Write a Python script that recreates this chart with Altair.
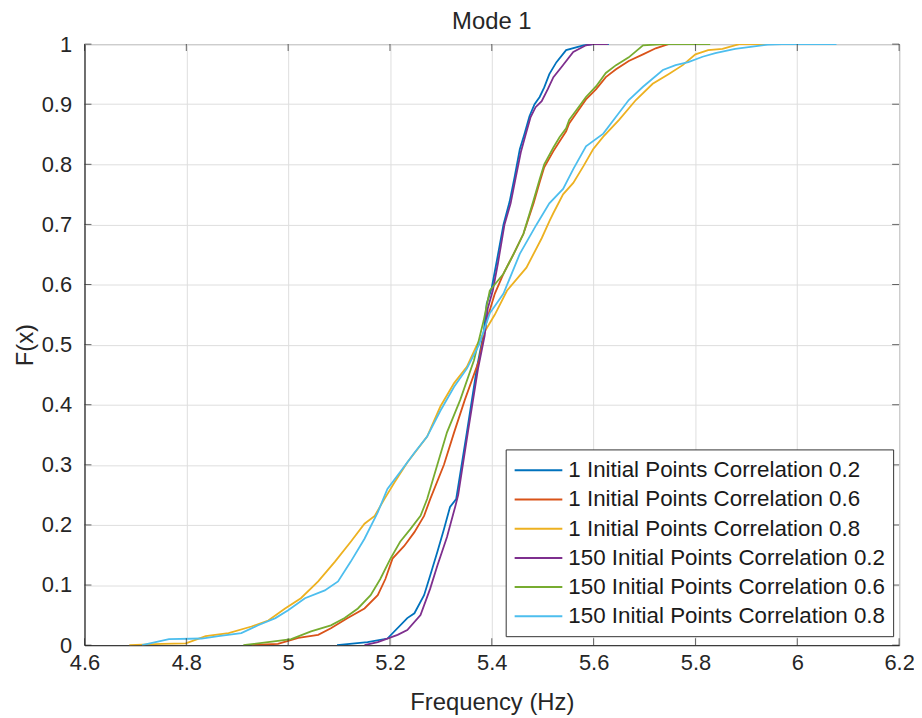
import altair as alt
import pandas as pd

labels = [
    "1 Initial Points Correlation 0.2",
    "1 Initial Points Correlation 0.6",
    "1 Initial Points Correlation 0.8",
    "150 Initial Points Correlation 0.2",
    "150 Initial Points Correlation 0.6",
    "150 Initial Points Correlation 0.8",
]
colors = ["#0072BD", "#D95319", "#EDB120", "#7E2F8E", "#77AC30", "#4DBEEE"]

x_ticks = [4.6, 4.8, 5.0, 5.2, 5.4, 5.6, 5.8, 6.0, 6.2]
y_ticks = [0, 0.1, 0.2, 0.3, 0.4, 0.5, 0.6, 0.7, 0.8, 0.9, 1.0]

# 1 initial point, correlation 0.2
x_1_02 = [5.096, 5.156, 5.195, 5.234, 5.248, 5.267, 5.279, 5.293, 5.306, 5.318, 5.330, 5.351, 5.371, 5.384, 5.390, 5.400, 5.410, 5.423, 5.435, 5.445, 5.455, 5.464, 5.474, 5.484, 5.494, 5.503, 5.513, 5.527, 5.546, 5.580, 5.599, 5.630]
f_1_02 = [0, 0.005, 0.011, 0.045, 0.053, 0.083, 0.116, 0.155, 0.193, 0.23, 0.243, 0.354, 0.463, 0.519, 0.568, 0.595, 0.64, 0.70, 0.738, 0.78, 0.825, 0.85, 0.88, 0.90, 0.912, 0.928, 0.95, 0.97, 0.99, 0.998, 1.0, 1.0]

# 1 initial point, correlation 0.6
x_1_06 = [4.928, 4.980, 5.020, 5.059, 5.084, 5.117, 5.150, 5.176, 5.191, 5.205, 5.228, 5.248, 5.267, 5.279, 5.306, 5.326, 5.347, 5.375, 5.390, 5.406, 5.423, 5.443, 5.462, 5.482, 5.494, 5.503, 5.521, 5.533, 5.546, 5.552, 5.566, 5.585, 5.605, 5.624, 5.644, 5.669, 5.697, 5.722, 5.747, 5.794]
f_1_06 = [0, 0.002, 0.012, 0.017, 0.028, 0.045, 0.061, 0.083, 0.11, 0.144, 0.165, 0.188, 0.215, 0.243, 0.30, 0.354, 0.408, 0.474, 0.54, 0.585, 0.618, 0.651, 0.684, 0.735, 0.77, 0.795, 0.822, 0.838, 0.855, 0.868, 0.885, 0.908, 0.925, 0.945, 0.958, 0.972, 0.983, 0.993, 1.0, 1.0]

# 1 initial point, correlation 0.8
x_1_08 = [4.688, 4.752, 4.799, 4.838, 4.883, 4.928, 4.961, 4.994, 5.025, 5.059, 5.092, 5.123, 5.150, 5.170, 5.189, 5.209, 5.234, 5.254, 5.273, 5.299, 5.326, 5.351, 5.371, 5.406, 5.430, 5.468, 5.498, 5.513, 5.521, 5.540, 5.560, 5.580, 5.599, 5.619, 5.650, 5.683, 5.716, 5.747, 5.775, 5.800, 5.825, 5.853, 5.886, 5.970]
f_1_08 = [0, 0.002, 0.003, 0.015, 0.02, 0.031, 0.041, 0.061, 0.078, 0.106, 0.139, 0.172, 0.202, 0.215, 0.243, 0.271, 0.304, 0.326, 0.347, 0.397, 0.436, 0.463, 0.50, 0.55, 0.59, 0.628, 0.677, 0.705, 0.719, 0.75, 0.769, 0.797, 0.825, 0.846, 0.874, 0.907, 0.934, 0.95, 0.965, 0.983, 0.99, 0.992, 1.0, 1.0]

# 150 initial points, correlation 0.2
x_150_02 = [5.150, 5.176, 5.215, 5.234, 5.260, 5.279, 5.293, 5.312, 5.328, 5.334, 5.353, 5.373, 5.386, 5.392, 5.402, 5.412, 5.425, 5.437, 5.447, 5.457, 5.466, 5.476, 5.486, 5.498, 5.510, 5.521, 5.537, 5.560, 5.585, 5.599, 5.628]
f_150_02 = [0, 0.005, 0.017, 0.025, 0.05, 0.094, 0.132, 0.18, 0.23, 0.25, 0.354, 0.46, 0.515, 0.56, 0.59, 0.635, 0.70, 0.735, 0.778, 0.82, 0.848, 0.878, 0.895, 0.905, 0.925, 0.945, 0.962, 0.987, 0.998, 1.0, 1.0]

# 150 initial points, correlation 0.6
x_150_06 = [4.912, 4.980, 5.006, 5.045, 5.084, 5.111, 5.137, 5.162, 5.181, 5.201, 5.220, 5.240, 5.260, 5.273, 5.293, 5.312, 5.338, 5.365, 5.384, 5.396, 5.423, 5.443, 5.462, 5.482, 5.494, 5.503, 5.521, 5.533, 5.546, 5.552, 5.566, 5.585, 5.605, 5.624, 5.644, 5.669, 5.697, 5.736, 5.829]
f_150_06 = [0, 0.007, 0.01, 0.023, 0.033, 0.045, 0.061, 0.083, 0.11, 0.144, 0.172, 0.193, 0.215, 0.243, 0.30, 0.354, 0.408, 0.474, 0.54, 0.59, 0.618, 0.651, 0.684, 0.74, 0.775, 0.80, 0.828, 0.845, 0.86, 0.874, 0.89, 0.912, 0.93, 0.952, 0.965, 0.978, 0.998, 1.0, 1.0]

# 150 initial points, correlation 0.8
x_150_08 = [4.713, 4.766, 4.830, 4.863, 4.908, 4.941, 4.975, 5.000, 5.033, 5.072, 5.098, 5.123, 5.150, 5.176, 5.195, 5.220, 5.248, 5.273, 5.299, 5.326, 5.351, 5.375, 5.396, 5.423, 5.455, 5.488, 5.513, 5.540, 5.560, 5.585, 5.619, 5.644, 5.669, 5.697, 5.736, 5.761, 5.786, 5.814, 5.839, 5.878, 5.942, 5.970, 6.077]
f_150_08 = [0, 0.01, 0.011, 0.015, 0.02, 0.033, 0.045, 0.058, 0.078, 0.091, 0.106, 0.139, 0.177, 0.221, 0.26, 0.288, 0.32, 0.347, 0.39, 0.43, 0.46, 0.50, 0.552, 0.585, 0.651, 0.70, 0.735, 0.759, 0.792, 0.83, 0.851, 0.879, 0.907, 0.929, 0.957, 0.965, 0.97, 0.979, 0.985, 0.992, 0.999, 1.0, 1.0]

series = [
    (labels[0], x_1_02, f_1_02),
    (labels[1], x_1_06, f_1_06),
    (labels[2], x_1_08, f_1_08),
    (labels[3], x_150_02, f_150_02),
    (labels[4], x_150_06, f_150_06),
    (labels[5], x_150_08, f_150_08),
]

rows = []
for name, xs, fs in series:
    for i, (xv, fv) in enumerate(zip(xs, fs)):
        rows.append({"series": name, "freq": xv, "F": fv, "idx": i})
df = pd.DataFrame(rows)

xt = pd.DataFrame({"freq": x_ticks})
yt = pd.DataFrame({"F": y_ticks})

FONT = "Liberation Sans"
INK = "#262626"
W, H = 820, 605

xscale = alt.Scale(domain=[4.6, 6.2], nice=False, zero=False)
yscale = alt.Scale(domain=[0, 1], nice=False)

xaxis = alt.Axis(values=x_ticks, format="~g", title="Frequency  (Hz)",
                 titleFontSize=24, titleFontWeight="normal", titleColor=INK,
                 titlePadding=17,
                 labelFontSize=22, labelColor=INK, labelPadding=8,
                 ticks=False, grid=True, gridColor="#dedede",
                 domainColor=INK, labelFlush=False)
yaxis = alt.Axis(values=y_ticks, format="~g", title="F(x)",
                 titleFontSize=24, titleFontWeight="normal", titleColor=INK,
                 titlePadding=4,
                 labelFontSize=22, labelColor=INK, labelPadding=13,
                 ticks=False, grid=True, gridColor="#dedede",
                 domainColor=INK, labelFlush=False)

lines = alt.Chart(df).mark_line(strokeWidth=1.8, clip=True).encode(
    x=alt.X("freq:Q", scale=xscale, axis=xaxis, title="Frequency  (Hz)"),
    y=alt.Y("F:Q", scale=yscale, axis=yaxis, title="F(x)"),
    color=alt.Color("series:N",
                    scale=alt.Scale(domain=labels, range=colors),
                    legend=alt.Legend(title=None, orient="none", legendX=424, legendY=408,
                                      symbolType="M-2,0L2,0", symbolSize=576, symbolStrokeWidth=2,
                                      symbolOffset=12,
                                      labelFontSize=22.5, labelColor="#1a1a1a", labelLimit=500,
                                      rowPadding=4.4, padding=8, strokeColor="#333333",
                                      fillColor="white", labelOffset=17)),
    order=alt.Order("idx:Q"),
)

tick_len = 7
bottom_ticks = alt.Chart(xt).mark_tick(orient="vertical", size=tick_len, thickness=1, color=INK).encode(
    x=alt.X("freq:Q", scale=xscale, axis=xaxis, title="Frequency  (Hz)"), y=alt.value(H - tick_len / 2))
top_ticks = alt.Chart(xt).mark_tick(orient="vertical", size=tick_len, thickness=1, color=INK).encode(
    x=alt.X("freq:Q", scale=xscale, axis=xaxis, title="Frequency  (Hz)"), y=alt.value(tick_len / 2))
left_ticks = alt.Chart(yt).mark_tick(orient="horizontal", size=tick_len, thickness=1, color=INK).encode(
    y=alt.Y("F:Q", scale=yscale, axis=yaxis, title="F(x)"), x=alt.value(tick_len / 2))
right_ticks = alt.Chart(yt).mark_tick(orient="horizontal", size=tick_len, thickness=1, color=INK).encode(
    y=alt.Y("F:Q", scale=yscale, axis=yaxis, title="F(x)"), x=alt.value(W - tick_len / 2))

chart = alt.layer(lines, bottom_ticks, top_ticks, left_ticks, right_ticks).properties(
    width=W,
    height=H,
    title=alt.TitleParams("Mode 1", fontSize=24, fontWeight="normal", color=INK,
                          font=FONT, offset=-1),
    autosize=alt.AutoSizeParams(type="none"),
    padding={"left": 77, "top": 34, "right": 15, "bottom": 70},
).configure(
    font=FONT,
).configure_view(
    stroke=INK, strokeWidth=1,
).configure_axis(
    labelFont=FONT, titleFont=FONT,
).configure_legend(
    labelFont=FONT,
)

chart.save("out.html", embed_options={"renderer": "svg", "actions": False})
